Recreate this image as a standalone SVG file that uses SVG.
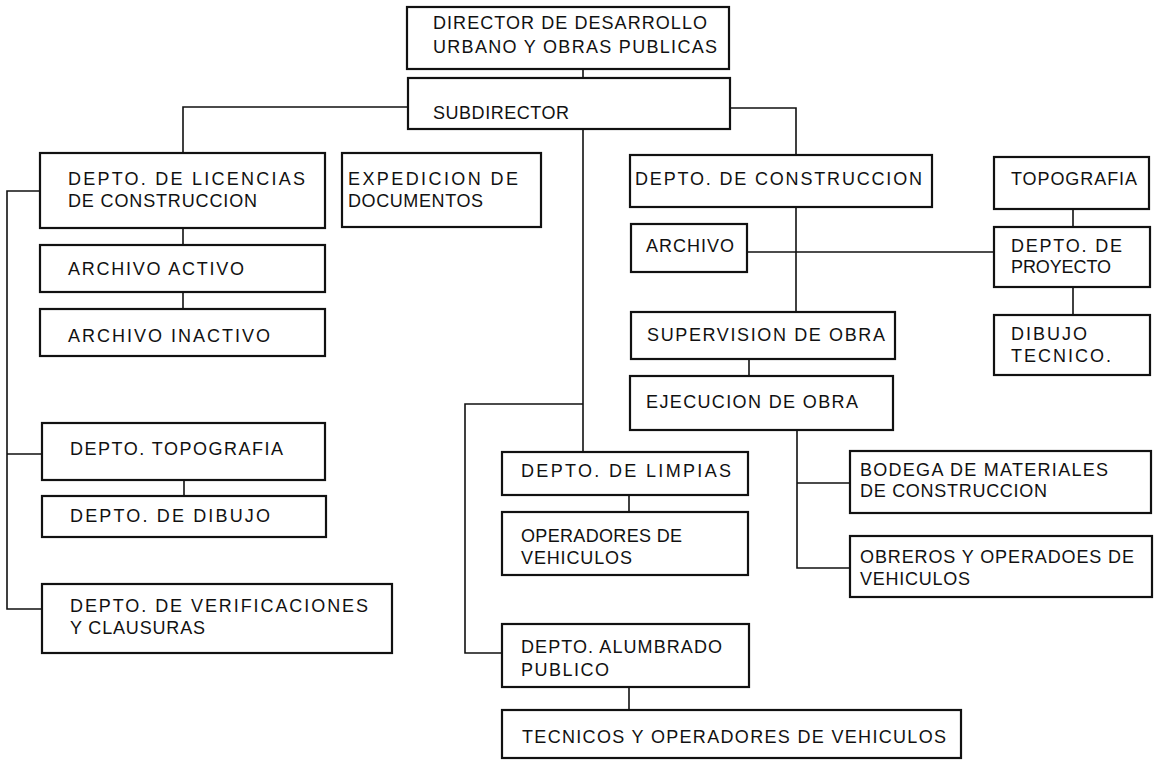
<svg xmlns="http://www.w3.org/2000/svg" width="1158" height="764" viewBox="0 0 1158 764">
<style>
.box{fill:#fff;stroke:#111;stroke-width:2.2}
.ln{fill:none;stroke:#111;stroke-width:1.6}
text{font-family:"Liberation Sans",Arial,sans-serif;font-size:18px;fill:#111}
</style>
<rect x="0" y="0" width="1158" height="764" fill="#fff"/>
<g id="connectors">
<path class="ln" d="M583,69V78"/>
<path class="ln" d="M408,107H183V153"/>
<path class="ln" d="M183,228V245"/>
<path class="ln" d="M183,292V309"/>
<path class="ln" d="M40,191H7V609H42M7,454H42"/>
<path class="ln" d="M184,480V496"/>
<path class="ln" d="M730,108H796V155"/>
<path class="ln" d="M796,207V312"/>
<path class="ln" d="M747,252H994"/>
<path class="ln" d="M1073,209V227"/>
<path class="ln" d="M1073,287V315"/>
<path class="ln" d="M749,359V376"/>
<path class="ln" d="M583,129V452M583,404H465V653H502"/>
<path class="ln" d="M629,495V512"/>
<path class="ln" d="M797,430V568H850M797,483H850"/>
<path class="ln" d="M629,687V710"/>
</g>
<g id="director"><rect class="box" x="407" y="7" width="322" height="62"/>
<text x="433" y="29" textLength="274" lengthAdjust="spacing">DIRECTOR DE DESARROLLO</text>
<text x="433" y="53" textLength="284" lengthAdjust="spacing">URBANO Y OBRAS PUBLICAS</text></g>
<g id="subdirector"><rect class="box" x="408" y="78" width="322" height="51"/>
<text x="433" y="119" textLength="136" lengthAdjust="spacing">SUBDIRECTOR</text></g>
<g id="licencias"><rect class="box" x="40" y="153" width="285" height="75"/>
<text x="68" y="185" textLength="237" lengthAdjust="spacing">DEPTO. DE LICENCIAS</text>
<text x="68" y="207" textLength="189" lengthAdjust="spacing">DE CONSTRUCCION</text></g>
<g id="expedicion"><rect class="box" x="342" y="153" width="199" height="74"/>
<text x="348" y="185" textLength="170" lengthAdjust="spacing">EXPEDICION DE</text>
<text x="348" y="207" textLength="135" lengthAdjust="spacing">DOCUMENTOS</text></g>
<g id="archivo-activo"><rect class="box" x="40" y="245" width="285" height="47"/>
<text x="68" y="275" textLength="176" lengthAdjust="spacing">ARCHIVO ACTIVO</text></g>
<g id="archivo-inactivo"><rect class="box" x="40" y="309" width="285" height="47"/>
<text x="68" y="342" textLength="202" lengthAdjust="spacing">ARCHIVO INACTIVO</text></g>
<g id="depto-topografia"><rect class="box" x="42" y="423" width="283" height="57"/>
<text x="70" y="455" textLength="213" lengthAdjust="spacing">DEPTO. TOPOGRAFIA</text></g>
<g id="depto-dibujo"><rect class="box" x="42" y="496" width="284" height="41"/>
<text x="70" y="522" textLength="200" lengthAdjust="spacing">DEPTO. DE DIBUJO</text></g>
<g id="verificaciones"><rect class="box" x="42" y="584" width="350" height="69"/>
<text x="70" y="612" textLength="298" lengthAdjust="spacing">DEPTO. DE VERIFICACIONES</text>
<text x="70" y="634" textLength="135" lengthAdjust="spacing">Y CLAUSURAS</text></g>
<g id="construccion"><rect class="box" x="630" y="155" width="302" height="52"/>
<text x="635" y="185" textLength="287" lengthAdjust="spacing">DEPTO. DE CONSTRUCCION</text></g>
<g id="archivo"><rect class="box" x="631" y="224" width="116" height="48"/>
<text x="646" y="252" textLength="88" lengthAdjust="spacing">ARCHIVO</text></g>
<g id="topografia"><rect class="box" x="994" y="157" width="155" height="52"/>
<text x="1011" y="185" textLength="126" lengthAdjust="spacing">TOPOGRAFIA</text></g>
<g id="proyecto"><rect class="box" x="994" y="227" width="156" height="60"/>
<text x="1011" y="252" textLength="111" lengthAdjust="spacing">DEPTO. DE</text>
<text x="1011" y="273" textLength="100" lengthAdjust="spacing">PROYECTO</text></g>
<g id="dibujo-tecnico"><rect class="box" x="994" y="315" width="156" height="60"/>
<text x="1011" y="340" textLength="76" lengthAdjust="spacing">DIBUJO</text>
<text x="1011" y="362" textLength="100" lengthAdjust="spacing">TECNICO.</text></g>
<g id="supervision"><rect class="box" x="631" y="312" width="264" height="47"/>
<text x="647" y="341" textLength="238" lengthAdjust="spacing">SUPERVISION DE OBRA</text></g>
<g id="ejecucion"><rect class="box" x="630" y="376" width="263" height="54"/>
<text x="646" y="408" textLength="212" lengthAdjust="spacing">EJECUCION DE OBRA</text></g>
<g id="limpias"><rect class="box" x="502" y="452" width="246" height="43"/>
<text x="521" y="477" textLength="210" lengthAdjust="spacing">DEPTO. DE LIMPIAS</text></g>
<g id="operadores"><rect class="box" x="502" y="512" width="246" height="63"/>
<text x="521" y="542" textLength="161" lengthAdjust="spacing">OPERADORES DE</text>
<text x="521" y="564" textLength="111" lengthAdjust="spacing">VEHICULOS</text></g>
<g id="bodega"><rect class="box" x="850" y="451" width="301" height="62"/>
<text x="860" y="476" textLength="248" lengthAdjust="spacing">BODEGA DE MATERIALES</text>
<text x="860" y="497" textLength="187" lengthAdjust="spacing">DE CONSTRUCCION</text></g>
<g id="obreros"><rect class="box" x="850" y="536" width="302" height="61"/>
<text x="860" y="563" textLength="274" lengthAdjust="spacing">OBREROS Y OPERADOES DE</text>
<text x="860" y="585" textLength="110" lengthAdjust="spacing">VEHICULOS</text></g>
<g id="alumbrado"><rect class="box" x="502" y="624" width="247" height="63"/>
<text x="521" y="653" textLength="201" lengthAdjust="spacing">DEPTO. ALUMBRADO</text>
<text x="521" y="676" textLength="88" lengthAdjust="spacing">PUBLICO</text></g>
<g id="tecnicos"><rect class="box" x="502" y="710" width="459" height="48"/>
<text x="522" y="743" textLength="424" lengthAdjust="spacing">TECNICOS Y OPERADORES DE VEHICULOS</text></g>
</svg>
